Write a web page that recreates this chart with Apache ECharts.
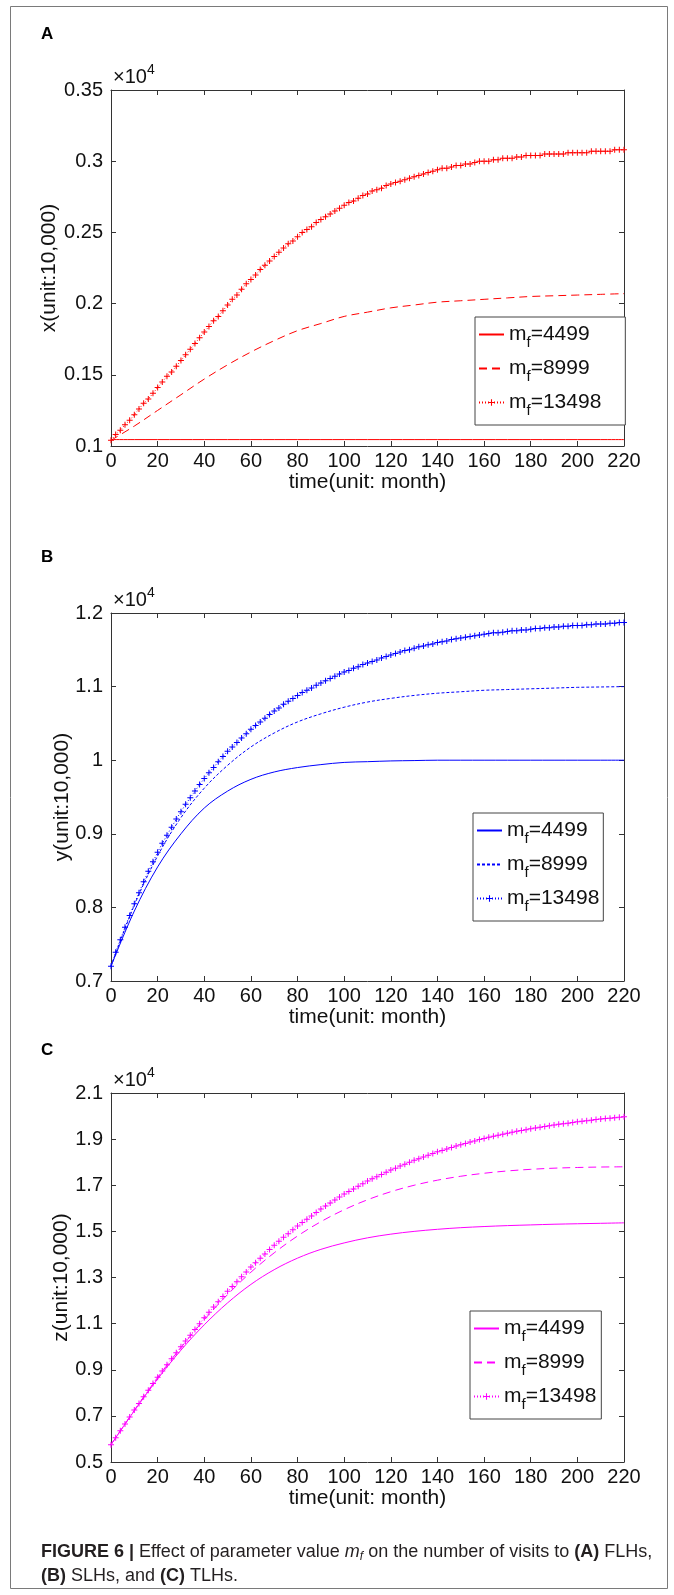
<!DOCTYPE html>
<html>
<head>
<meta charset="utf-8">
<script src="https://cdn.jsdelivr.net/npm/echarts@6/dist/echarts.min.js"></script>
<style>
  html, body { margin: 0; padding: 0; background: #fff; }
  #fig { width: 674px; height: 1595px; }
</style>
</head>
<body>
<div id="fig"></div>
<script>
// ---- time axes (months) ----
const monthsCoarse = [0,10,20,30,40,50,60,70,80,90,100,110,120,130,140,150,160,170,180,190,200,210,220];
const monthsFine = [
  0,2,4,6,8,10,12,14,16,18,20,22,24,26,28,30,32,34,36,38,40,
  42,44,46,48,50,52,54,56,58,60,62,64,66,68,70,72,74,76,78,80,
  82,84,86,88,90,92,94,96,98,100,102,104,106,108,110,112,114,116,118,120,
  122,124,126,128,130,132,134,136,138,140,142,144,146,148,150,152,154,156,158,160,
  162,164,166,168,170,172,174,176,178,180,182,184,186,188,190,192,194,196,198,200,
  202,204,206,208,210,212,214,216,218,220
];

// parameter values m_f shown in the legends
const mfValues = [4499, 8999, 13498];

// ---- (A) FLHs, x (x10^4) ----
const xLow  = [0.1045,0.1045,0.1045,0.1045,0.1045,0.1045,0.1045,0.1045,0.1045,0.1045,0.1045,0.1045,0.1045,0.1045,0.1045,0.1045,0.1045,0.1045,0.1045,0.1045,0.1045,0.1045,0.1045];
const xMid  = [0.104,0.114,0.125,0.136,0.147,0.157,0.166,0.174,0.181,0.186,0.191,0.194,0.197,0.199,0.201,0.202,0.203,0.204,0.205,0.2055,0.206,0.2065,0.207];
const xHigh = [
  0.104,
  0.108,0.111,0.115,0.118,0.122, 0.126,0.130,0.133,0.137,0.141, 0.145,0.149,0.152,0.156,0.160,
  0.164,0.168,0.172,0.176,0.180, 0.184,0.188,0.191,0.195,0.199, 0.203,0.206,0.210,0.214,0.217,
  0.220,0.224,0.227,0.230,0.233, 0.236,0.239,0.242,0.244,0.247, 0.250,0.252,0.254,0.257,0.259,
  0.261,0.263,0.265,0.267,0.269, 0.271,0.272,0.274,0.276,0.277, 0.279,0.280,0.281,0.283,0.284,
  0.285,0.286,0.287,0.288,0.289, 0.290,0.291,0.292,0.293,0.294, 0.295,0.295,0.296,0.297,0.297,
  0.298,0.298,0.299,0.300,0.300, 0.300,0.301,0.301,0.302,0.302, 0.302,0.303,0.303,0.304,0.304,
  0.304,0.304,0.305,0.305,0.305, 0.305,0.305,0.306,0.306,0.306, 0.306,0.306,0.307,0.307,0.307,
  0.307,0.307,0.308,0.308,0.308
];

// ---- (B) SLHs, y (x10^4) ----
const yLow  = [0.72,0.795,0.855,0.9,0.935,0.958,0.974,0.984,0.99,0.994,0.997,0.998,0.999,0.9995,1.0,1.0,1.0,1.0,1.0,1.0,1.0,1.0,1.0];
const yMid  = [0.72,0.803,0.87,0.922,0.962,0.993,1.018,1.037,1.052,1.063,1.072,1.079,1.084,1.088,1.091,1.093,1.095,1.096,1.097,1.098,1.099,1.0995,1.1];
const yHigh = [
  0.720,
  0.739,0.756,0.773,0.789,0.805, 0.820,0.835,0.849,0.862,0.875, 0.887,0.898,0.909,0.920,0.930,
  0.940,0.949,0.958,0.967,0.975, 0.983,0.990,0.998,1.005,1.012, 1.018,1.024,1.030,1.036,1.042,
  1.047,1.052,1.057,1.062,1.067, 1.071,1.076,1.080,1.084,1.088, 1.092,1.095,1.098,1.102,1.105,
  1.108,1.111,1.114,1.117,1.120, 1.122,1.125,1.127,1.130,1.132, 1.134,1.136,1.139,1.141,1.143,
  1.145,1.147,1.149,1.150,1.152, 1.154,1.155,1.157,1.158,1.160, 1.161,1.162,1.164,1.165,1.166,
  1.167,1.168,1.169,1.170,1.171, 1.172,1.173,1.173,1.174,1.175, 1.176,1.176,1.177,1.177,1.178,
  1.179,1.179,1.180,1.180,1.181, 1.181,1.182,1.182,1.183,1.183, 1.183,1.184,1.184,1.185,1.185,
  1.185,1.186,1.186,1.187,1.187
];

// ---- (C) TLHs, z (x10^4) ----
const zLow  = [0.575,0.722,0.86,0.985,1.095,1.19,1.27,1.334,1.384,1.422,1.45,1.472,1.488,1.5,1.509,1.516,1.521,1.525,1.528,1.531,1.533,1.535,1.537];
const zMid  = [0.575,0.724,0.866,0.996,1.117,1.226,1.323,1.407,1.48,1.542,1.594,1.637,1.672,1.7,1.722,1.739,1.752,1.762,1.769,1.774,1.777,1.779,1.78];
const zHigh = [
  0.575,
  0.605,0.635,0.665,0.695,0.725, 0.754,0.783,0.811,0.840,0.868, 0.895,0.922,0.948,0.974,1.000,
  1.025,1.050,1.075,1.100,1.125, 1.149,1.172,1.195,1.218,1.240, 1.261,1.282,1.303,1.324,1.345,
  1.364,1.383,1.402,1.421,1.440, 1.457,1.474,1.490,1.507,1.523, 1.538,1.553,1.567,1.582,1.597,
  1.610,1.623,1.636,1.649,1.662, 1.673,1.684,1.696,1.707,1.718, 1.728,1.737,1.747,1.756,1.766,
  1.774,1.783,1.791,1.800,1.808, 1.815,1.823,1.830,1.838,1.845, 1.851,1.857,1.864,1.870,1.876,
  1.881,1.887,1.892,1.898,1.903, 1.908,1.912,1.917,1.921,1.926, 1.930,1.934,1.937,1.941,1.945,
  1.948,1.951,1.955,1.958,1.961, 1.964,1.967,1.969,1.972,1.975, 1.977,1.980,1.982,1.985,1.987,
  1.989,1.991,1.993,1.995,1.997
];

// ---- axis ranges ----
const xRange = { min: 0, max: 220, step: 20 };
const yRangeA = { min: 0.1, max: 0.35, step: 0.05 };
const yRangeB = { min: 0.7, max: 1.2, step: 0.1 };
const yRangeC = { min: 0.5, max: 2.1, step: 0.2 };

const FONT = '"Liberation Sans", Arial, Helvetica, sans-serif';
const INK = '#333333';
const TEXT = '#111111';
// filled "+" marker, arms one sixth of the symbol size thick
const PLUS = 'path://M2.5,0H3.5V2.5H6V3.5H3.5V6H2.5V3.5H0V2.5H2.5Z';

const panels = [
  { key: 'x', letter: 'A', letterY: 34, yName: 'x(unit:10,000)', range: yRangeA, color: '#ff0000',
    low: xLow, mid: xMid, high: xHigh, midDash: [8, 5],
    top: 90, height: 356, nameGap: 51, legend: { left: 475, top: 317, padRight: 24 } },
  { key: 'y', letter: 'B', letterY: 557, yName: 'y(unit:10,000)', range: yRangeB, color: '#0000ff',
    low: yLow, mid: yMid, high: yHigh, midDash: [3, 2],
    top: 613, height: 368, nameGap: 38, legend: { left: 473, top: 813, padRight: 4 } },
  { key: 'z', letter: 'C', letterY: 1050, yName: 'z(unit:10,000)', range: yRangeC, color: '#ff00ff',
    low: zLow, mid: zMid, high: zHigh, midDash: [8, 5],
    top: 1093, height: 369, nameGap: 39, legend: { left: 470, top: 1311, padRight: 5 } }
];

const GRID_LEFT = 111, GRID_WIDTH = 513;

const pairs = (ts, vs) => ts.map((t, i) => [t, vs[i]]);
const fmt = v => String(parseFloat(v.toFixed(3)));

const grid = [], xAxis = [], yAxis = [], series = [], legend = [], graphic = [];

panels.forEach((p, i) => {
  grid.push({ left: GRID_LEFT, width: GRID_WIDTH, top: p.top, height: p.height, containLabel: false });

  const tick = { show: true, inside: true, length: 5, lineStyle: { color: INK, width: 1 } };
  const line = { show: true, onZero: false, lineStyle: { color: INK, width: 1 } };

  xAxis.push({
    gridIndex: i, type: 'value', position: 'bottom',
    min: xRange.min, max: xRange.max, interval: xRange.step,
    axisLine: line, axisTick: tick, splitLine: { show: false },
    axisLabel: { color: TEXT, fontSize: 20, fontFamily: FONT, margin: 5, showMinLabel: true, showMaxLabel: true },
    name: 'time(unit: month)', nameLocation: 'middle', nameGap: 25,
    nameTextStyle: { color: TEXT, fontSize: 21, fontFamily: FONT }
  });
  xAxis.push({
    gridIndex: i, type: 'value', position: 'top',
    min: xRange.min, max: xRange.max, interval: xRange.step,
    axisLine: line, axisTick: tick, splitLine: { show: false }, axisLabel: { show: false }
  });

  yAxis.push({
    gridIndex: i, type: 'value', position: 'left',
    min: p.range.min, max: p.range.max, interval: p.range.step,
    axisLine: line, axisTick: tick, splitLine: { show: false },
    axisLabel: { color: TEXT, fontSize: 20, fontFamily: FONT, margin: 8, formatter: fmt, showMinLabel: true, showMaxLabel: true },
    name: p.yName, nameLocation: 'middle', nameGap: p.nameGap, nameMoveOverlap: false,
    nameTextStyle: { color: TEXT, fontSize: 21, fontFamily: FONT }
  });
  yAxis.push({
    gridIndex: i, type: 'value', position: 'right',
    min: p.range.min, max: p.range.max, interval: p.range.step,
    axisLine: line, axisTick: tick, splitLine: { show: false }, axisLabel: { show: false }
  });

  const names = mfValues.map(m => p.key + ':' + m);
  const common = { type: 'line', xAxisIndex: 2 * i, yAxisIndex: 2 * i, animation: false, z: 3 };

  series.push(Object.assign({}, common, {
    name: names[0], data: pairs(monthsCoarse, p.low), symbol: 'none', showSymbol: false, smooth: 0.35,
    lineStyle: { color: p.color, width: 1, type: 'solid' }, itemStyle: { color: p.color }
  }));
  series.push(Object.assign({}, common, {
    name: names[1], data: pairs(monthsCoarse, p.mid), symbol: 'none', showSymbol: false, smooth: 0.35,
    lineStyle: { color: p.color, width: 1, type: p.midDash }, itemStyle: { color: p.color }
  }));
  series.push(Object.assign({}, common, {
    name: names[2], data: pairs(monthsFine, p.high), symbol: PLUS, symbolSize: 6, showSymbol: true,
    lineStyle: { color: p.color, width: 1, type: [1, 2] }, itemStyle: { color: p.color }
  }));

  legend.push({
    orient: 'vertical', left: p.legend.left, top: p.legend.top,
    padding: [2, p.legend.padRight, 7, 3], itemGap: 3, itemWidth: 25, itemHeight: 8,
    backgroundColor: '#fff', borderColor: '#444', borderWidth: 1, borderRadius: 0,
    selectedMode: false,
    data: [
      { name: names[0], itemStyle: { opacity: 0 } },
      { name: names[1], itemStyle: { opacity: 0 } },
      { name: names[2] }
    ],
    formatter: n => '{m|m}{s|f}{v|=' + n.split(':')[1] + '}',
    textStyle: {
      rich: {
        m: { fontSize: 21, lineHeight: 30, fontFamily: FONT, color: TEXT },
        s: { fontSize: 15, lineHeight: 14, padding: [16, 0, 0, 0], fontFamily: FONT, color: TEXT },
        v: { fontSize: 21, lineHeight: 30, fontFamily: FONT, color: TEXT }
      }
    }
  });

  // panel letter and exponent note above each axes box
  graphic.push({
    type: 'text', x: 41, y: p.letterY,
    style: { text: p.letter, font: 'bold 17px ' + FONT, fill: '#000', verticalAlign: 'middle' }
  });
  graphic.push({
    type: 'text', x: 113, y: p.top - 2,
    style: {
      text: '{a|×10}{b|4}', verticalAlign: 'bottom', align: 'left',
      rich: {
        a: { fontSize: 20, lineHeight: 22, fontFamily: FONT, fill: TEXT },
        b: { fontSize: 14, lineHeight: 10, padding: [0, 0, 14, 0], fontFamily: FONT, fill: TEXT }
      }
    }
  });
});

// outer frame
graphic.push({
  type: 'rect', z: -1,
  shape: { x: 10.5, y: 6.5, width: 657, height: 1582 },
  style: { fill: 'none', stroke: '#7a7a7a', lineWidth: 1 }
});

// figure caption
graphic.push({
  type: 'text', x: 41, y: 1540,
  style: {
    text: '{b|FIGURE 6 | }{n|Effect of parameter value }{i|m}{is|f}{n| on the number of visits to }{b|(A)}{n| FLHs,}\n' +
          '{b|(B)}{n| SLHs, and }{b|(C)}{n| TLHs.}',
    verticalAlign: 'top',
    rich: {
      n: { fontSize: 18, lineHeight: 24, fontFamily: FONT, fill: '#231f20' },
      b: { fontSize: 18, lineHeight: 24, fontFamily: FONT, fontWeight: 'bold', fill: '#231f20' },
      i: { fontSize: 18, lineHeight: 24, fontFamily: FONT, fontStyle: 'italic', fill: '#231f20' },
      is: { fontSize: 12, lineHeight: 10, padding: [10, 0, 0, 0], fontFamily: FONT, fontStyle: 'italic', fill: '#231f20' }
    }
  }
});

const chart = echarts.init(document.getElementById('fig'), null, { renderer: 'canvas' });
chart.setOption({
  animation: false,
  backgroundColor: '#fff',
  grid, xAxis, yAxis, series, legend, graphic
});
</script>
</body>
</html>
